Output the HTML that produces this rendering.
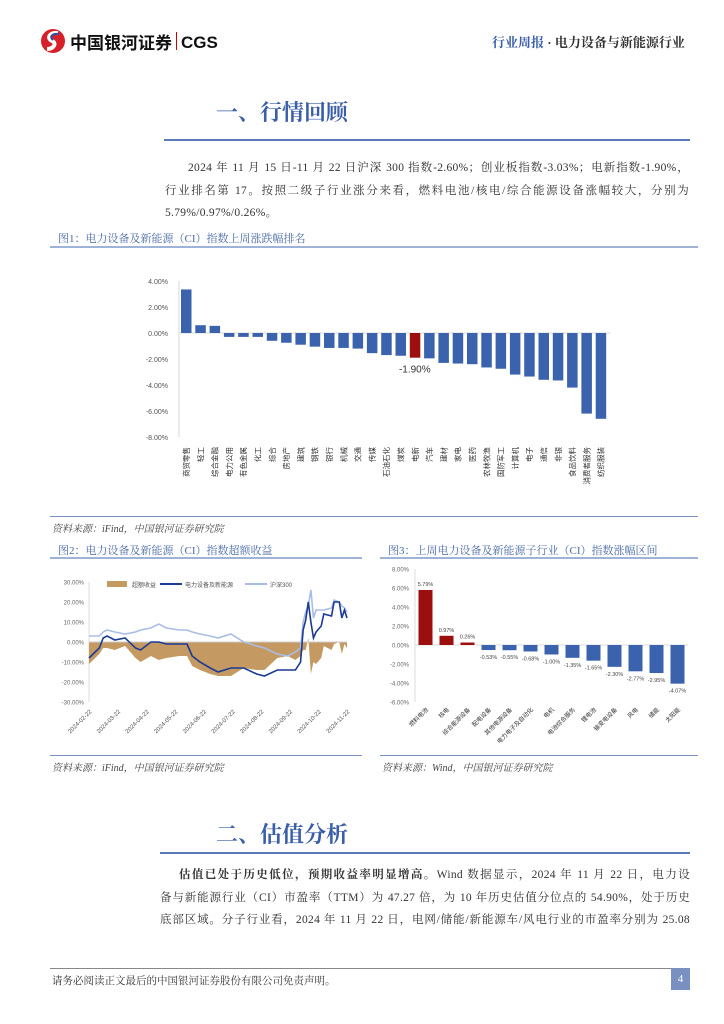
<!DOCTYPE html>
<html><head><meta charset="utf-8">
<style>
body{margin:0;width:724px;height:1024px;background:#fff;position:relative;overflow:hidden;font-family:"Liberation Serif","Noto Serif CJK SC",serif;color:#333}
.a{position:absolute;white-space:nowrap}
.p{font-size:11.5px;letter-spacing:0.3px;color:#333}
.j{text-align:justify;text-align-last:justify}
.cap{font-size:11px;color:#4a6aa8}
.src{font-size:10px;color:#444;font-style:italic}
.rule{position:absolute;height:0}
svg text{font-family:"Liberation Sans","Noto Sans CJK SC",sans-serif}
</style></head><body>
<div class="a" style="left:40px;top:28px;height:26px;display:flex;align-items:center">
 <svg width="26" height="26" viewBox="0 0 26 26"><circle cx="13" cy="13" r="12" fill="#d7202a"/><path d="M18 5 C10 4 6 10 12 13 C17 15 14 21 7 21" stroke="#fff" stroke-width="4" fill="none"/><path d="M19 6 C12 5 9 9 13 12" stroke="#2b4ea2" stroke-width="2" fill="none"/></svg>
 <span style="font-family:'Liberation Sans','Noto Sans CJK SC',sans-serif;font-weight:bold;font-size:17px;color:#111;margin-left:4px">中国银河证券</span><span style="display:inline-block;width:1px;height:18px;background:#c00;margin:0 4px"></span><span style="font-family:'Liberation Sans',sans-serif;font-weight:bold;font-size:17px;color:#111;position:relative;top:2px">CGS</span>
</div>
<div class="a" style="left:492px;top:32px;font-size:13px;font-weight:bold"><span style="color:#3a5ea8">行业周报</span> · 电力设备与新能源行业</div>

<div class="a" style="left:216px;top:96px;font-size:22px;font-weight:bold;color:#3a5ea8">一、行情回顾</div>
<div class="rule" style="left:164px;top:139px;width:526px;border-top:2px solid #5a7ab8"></div>
<div class="a p" style="left:165px;top:157px;line-height:22.5px;white-space:normal;width:524px">
<div class="j" style="padding-left:23px">2024 年 11 月 15 日-11 月 22 日沪深 300 指数-2.60%；创业板指数-3.03%；电新指数-1.90%，</div>
<div class="j">行业排名第 17。按照二级子行业涨分来看，燃料电池/核电/综合能源设备涨幅较大，分别为</div>
<div>5.79%/0.97%/0.26%。</div></div>

<div class="a cap" style="left:58px;top:230px">图1：电力设备及新能源（CI）指数上周涨跌幅排名</div>
<div class="rule" style="left:50px;top:246px;width:648px;border-top:2px solid #9fb2d8"></div>
<svg class="a" style="left:0;top:250px" width="724" height="262" id="c1"></svg>
<div class="rule" style="left:50px;top:516px;width:648px;border-top:1px solid #7a90c0"></div>
<div class="a src" style="left:52px;top:520px">资料来源：iFind，中国银河证券研究院</div>

<div class="a cap" style="left:58px;top:542px">图2：电力设备及新能源（CI）指数超额收益</div>
<div class="a cap" style="left:388px;top:542px">图3：上周电力设备及新能源子行业（CI）指数涨幅区间</div>
<div class="rule" style="left:50px;top:557px;width:312px;border-top:2px solid #9fb2d8"></div>
<div class="rule" style="left:380px;top:557px;width:318px;border-top:2px solid #9fb2d8"></div>
<svg class="a" style="left:50px;top:560px" width="312" height="194" id="c2"></svg>
<svg class="a" style="left:380px;top:560px" width="318" height="194" id="c3"></svg>
<div class="rule" style="left:50px;top:755px;width:312px;border-top:1px solid #7a90c0"></div>
<div class="rule" style="left:380px;top:755px;width:318px;border-top:1px solid #7a90c0"></div>
<div class="a src" style="left:52px;top:759px">资料来源：iFind，中国银河证券研究院</div>
<div class="a src" style="left:382px;top:759px">资料来源：Wind，中国银河证券研究院</div>

<div class="a" style="left:216px;top:818px;font-size:22px;font-weight:bold;color:#3a5ea8">二、估值分析</div>
<div class="rule" style="left:160px;top:852px;width:530px;border-top:2px solid #5a7ab8"></div>
<div class="a p" style="left:160px;top:864px;line-height:22.5px;white-space:normal;width:530px">
<div class="j" style="padding-left:19px"><b>估值已处于历史低位，预期收益率明显增高。</b>Wind 数据显示，2024 年 11 月 22 日，电力设</div>
<div class="j">备与新能源行业（CI）市盈率（TTM）为 47.27 倍，为 10 年历史估值分位点的 54.90%，处于历史</div>
<div class="j">底部区域。分子行业看，2024 年 11 月 22 日，电网/储能/新能源车/风电行业的市盈率分别为 25.08</div></div>

<div class="rule" style="left:50px;top:968px;width:640px;border-top:1px solid #888"></div>
<div class="a" style="left:52px;top:973px;font-size:10.5px;color:#333">请务必阅读正文最后的中国银河证券股份有限公司免责声明。</div>
<div class="a" style="left:671px;top:968px;width:19px;height:22px;background:#7a90c0;color:#fff;font-size:11px;text-align:center;line-height:22px">4</div>

<script>
// ---- Chart 1 data ----
const c1Cats=["商贸零售","轻工","综合金融","电力公用","有色金属","化工","综合","房地产","建筑","钢铁","银行","机械","交通","传媒","石油石化","煤炭","电新","汽车","建材","家电","医药","农林牧渔","国防军工","计算机","电子","通信","非银","食品饮料","消费者服务","纺织服装"];
const c1Vals=[3.35,0.6,0.55,-0.3,-0.3,-0.3,-0.6,-0.75,-0.9,-1.05,-1.15,-1.15,-1.2,-1.55,-1.7,-1.75,-1.9,-1.95,-2.3,-2.35,-2.4,-2.65,-2.75,-3.2,-3.35,-3.6,-3.65,-4.2,-6.2,-6.6];
const c1Ticks=[4,2,0,-2,-4,-6,-8];
const c1Highlight="电新";
// ---- Chart 2 data ----
const c2Dates=["2024-02-22","2024-03-22","2024-04-22","2024-05-22","2024-06-22","2024-07-22","2024-08-22","2024-09-22","2024-10-22","2024-11-22"];
const c2T=[0,0.04,0.055,0.07,0.1,0.14,0.18,0.2,0.24,0.27,0.3,0.35,0.38,0.4,0.43,0.47,0.5,0.55,0.6,0.65,0.68,0.73,0.77,0.8,0.82,0.83,0.84,0.85,0.86,0.87,0.88,0.9,0.91,0.94,0.95,0.97,0.98,0.99,1];
const c2Sector=[-8,-3,2,3,1,2,-3,-4,0,0,-1,-1,-1,-7,-10,-13,-15,-13,-13,-16,-17,-14,-14,-14,-10,6,11,20,10,2,5,8,14,13,20,20,12,16,12];
const c2Hs300=[3,3,5,6,5,4,5,6,7,9,7,6,6,5,4,3,2,4,0,-2,-3,-6,-7,-5,-3,10,15,18,26,12,16,16,16,17,21,20,18,17,15];
const c2Ticks=[30,20,10,0,-10,-20,-30];
// ---- Chart 3 data ----
const c3Cats=["燃料电池","核电","综合能源设备","配电设备","其他电源设备","电力电子及自动化","电机","电池综合服务","锂电池","输变电设备","风电","储能","太阳能"];
const c3Vals=[5.79,0.97,0.26,-0.53,-0.55,-0.68,-1.0,-1.35,-1.65,-2.3,-2.77,-2.95,-4.07];
const c3Ticks=[8,6,4,2,0,-2,-4,-6];

const NS="http://www.w3.org/2000/svg";
function mk(p,tag,at,txt){const e=document.createElementNS(NS,tag);for(const k in at)e.setAttribute(k,at[k]);if(txt!==undefined)e.textContent=txt;p.appendChild(e);return e;}

// Chart 1
(function(){
const s=document.getElementById('c1');
const y=v=>83-v*13;
const x0=179,step=14.3;
const x=i=>x0+7+i*step;
for(const t of c1Ticks){const e=mk(s,'text',{x:168,y:y(t)+3,'font-size':7,'text-anchor':'end',fill:'#555'},t.toFixed(2)+'%');
}
const ax=mk(s,'line',{x1:x0,y1:y(4),x2:x0,y2:y(-8),stroke:'#d8d8d8'});

const zl=mk(s,'line',{x1:x0,y1:y(0),x2:610,y2:y(0),stroke:'#d8d8d8'});

c1Cats.forEach((c,i)=>{const v=c1Vals[i];
const b=mk(s,'rect',{x:x(i)-5,y:Math.min(y(v),y(0)),width:10.5,height:Math.abs(y(v)-y(0)),fill:c===c1Highlight?'#9b0f0f':'#3b63ad'});

const t=mk(s,'text',{x:0,y:0,'font-size':7.5,fill:'#333',transform:`translate(${x(i)+3},${y(-8)+10}) rotate(-90)`,'text-anchor':'end'},c);

if(c===c1Highlight){const l=mk(s,'text',{x:x(i),y:y(v)+15,'font-size':10,'text-anchor':'middle',fill:'#333','font-family':'Liberation Serif'},v.toFixed(2)+'%');
}
});
})();

// Chart 2
(function(){
const s=document.getElementById('c2');
const X0=39,X1=297;
const y=v=>82-v*2;
const x=t=>X0+t*(X1-X0);
for(const t of c2Ticks){const e=mk(s,'text',{x:34,y:y(t)+2.5,'font-size':6,'text-anchor':'end',fill:'#666'},t.toFixed(2)+'%');
}
const ax=mk(s,'line',{x1:X0,y1:y(30),x2:X0,y2:y(-30),stroke:'#ddd'});

let d=`M${x(0)},${y(0)}`;c2T.forEach((t,i)=>{d+=` L${x(t)},${y(c2Sector[i]-c2Hs300[i])}`;});d+=` L${x(1)},${y(0)}Z`;
const ar=mk(s,'path',{d,fill:'#c49a62'});
const zl=mk(s,'line',{x1:X0,y1:y(0),x2:X1,y2:y(0),stroke:'#ccc'});
const line=(arr,col,name)=>{const p=mk(s,'polyline',{points:c2T.map((t,i)=>x(t)+','+y(arr[i])).join(' '),fill:'none',stroke:col,'stroke-width':1.6});
};
line(c2Hs300,'#a9bde6','hs300-line');line(c2Sector,'#1a3a94','sector-line');
c2Dates.forEach((dt,i)=>{const xx=x(i/(c2Dates.length-1));
const t=mk(s,'text',{x:0,y:0,'font-size':6,fill:'#555','text-anchor':'end',transform:`translate(${xx+3},${y(-30)+10}) rotate(-45)`},dt);
});
const lg=[['超额收益','#c49a62','rect'],['电力设备及新能源','#1a3a94','line'],['沪深300','#a9bde6','line']];
let lx=57;lg.forEach(([n,c,k])=>{const g=mk(s,'g',{});
if(k==='rect')mk(g,'rect',{x:lx,y:21,width:20,height:6,fill:c});else mk(g,'line',{x1:lx,y1:24,x2:lx+22,y2:24,stroke:c,'stroke-width':2});
mk(g,'text',{x:lx+25,y:27,'font-size':6,fill:'#555'},n);lx+=k==='rect'?53:(n.length>4?85:0);});
})();

// Chart 3
(function(){
const s=document.getElementById('c3');
const X0=35,X1=308;
const y=v=>85-v*9.5;
const step=(X1-X0)/c3Cats.length;
const x=i=>X0+step*(i+0.5);
for(const t of c3Ticks){const e=mk(s,'text',{x:29,y:y(t)+2.5,'font-size':6,'text-anchor':'end',fill:'#666'},t.toFixed(2)+'%');
}
const ax=mk(s,'line',{x1:X0,y1:y(8),x2:X0,y2:y(-6),stroke:'#ddd'});
const zl=mk(s,'line',{x1:X0,y1:y(0),x2:X1,y2:y(0),stroke:'#ddd'});
c3Cats.forEach((c,i)=>{const v=c3Vals[i];
const b=mk(s,'rect',{x:x(i)-7,y:Math.min(y(v),y(0)),width:14,height:Math.abs(y(v)-y(0)),fill:v>=0?'#9b0f0f':'#3b63ad'});

const l=mk(s,'text',{x:x(i),y:v>=0?y(v)-4:y(v)+9,'font-size':5.5,'text-anchor':'middle',fill:'#444'},v.toFixed(2)+'%');

const t=mk(s,'text',{x:0,y:0,'font-size':6,fill:'#333','text-anchor':'end',transform:`translate(${x(i)+3},${y(-6)+8}) rotate(-45)`},c);
});
})();
</script>
</body></html>
